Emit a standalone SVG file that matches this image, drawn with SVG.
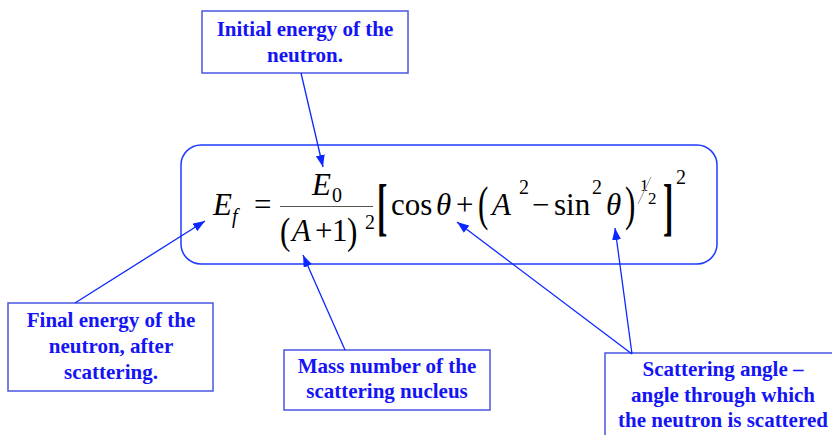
<svg xmlns="http://www.w3.org/2000/svg" width="832" height="435" viewBox="0 0 832 435">
<defs>
<style>
text{font-family:'Liberation Serif','Times New Roman','DejaVu Serif',serif}
.lbl{font-weight:bold;font-size:21px;fill:#1414f5;text-anchor:middle}
.box{fill:#fff;stroke:#4a56e0;stroke-width:1.5}
.m{font-size:31px;fill:#000}
.i{font-style:italic}
.s{font-size:20px}
.h{font-size:17px}
.br{font-weight:bold}
.con{stroke:#0a28ff;stroke-width:1.3;fill:none;marker-end:url(#ah)}
</style>
<marker id="ah" markerUnits="userSpaceOnUse" markerWidth="13" markerHeight="9" refX="12" refY="4.5" orient="auto">
<path d="M0,0 L12,4.5 L0,9 z" fill="#0a28ff"/>
</marker>
</defs>
<rect width="832" height="435" fill="#fff"/>

<g id="formula">
<rect x="181" y="145" width="536" height="119" rx="20" fill="none" stroke="#1e3cff" stroke-width="1.5"/>
<text class="m i" x="213" y="215">E</text>
<text class="m i s" x="232" y="223">f</text>
<text class="m" x="254" y="215">=</text>
<text class="m i" x="312" y="195">E</text>
<text class="m s" x="332" y="202">0</text>
<line x1="280" y1="206.5" x2="373" y2="206.5" stroke="#555" stroke-width="1.2"/>
<text class="m" transform="translate(280,244.2) scale(1,1.25)">(</text>
<text class="m i" x="292" y="241">A</text>
<text class="m" x="315" y="241">+</text>
<text class="m" x="332" y="241">1</text>
<text class="m" transform="translate(347,244.2) scale(1,1.25)">)</text>
<text class="m s" x="365" y="229">2</text>
<text class="m br" transform="translate(377,228) scale(1,2.05)">[</text>
<text class="m" x="391" y="215">cos</text>
<text class="m i" x="436" y="215">θ</text>
<text class="m" x="456" y="215">+</text>
<text class="m" transform="translate(478,219.5) scale(1,1.55)">(</text>
<text class="m i" x="492" y="215">A</text>
<text class="m s" x="519" y="194">2</text>
<text class="m" x="532" y="215">−</text>
<text class="m" x="554" y="215">sin</text>
<text class="m s" x="592" y="194">2</text>
<text class="m i" x="606" y="215">θ</text>
<text class="m" transform="translate(625,219.5) scale(1,1.55)">)</text>
<text class="m h" x="640" y="191">1</text>
<line x1="638" y1="204" x2="651" y2="177" stroke="#999" stroke-width="1"/>
<text class="m h" x="648" y="204">2</text>
<text class="m br" transform="translate(663,228) scale(1,2.05)">]</text>
<text class="m s" x="676" y="184">2</text>
</g>

<g id="initial">
<rect class="box" x="202" y="11" width="206" height="62"/>
<text class="lbl" x="305" y="36">Initial energy of the</text>
<text class="lbl" x="305" y="62">neutron.</text>
</g>

<g id="final">
<rect class="box" x="8" y="303" width="205" height="88"/>
<text class="lbl" x="111" y="327">Final energy of the</text>
<text class="lbl" x="111" y="353">neutron, after</text>
<text class="lbl" x="111" y="379">scattering.</text>
</g>

<g id="mass">
<rect class="box" x="284" y="350" width="206" height="60"/>
<text class="lbl" x="387" y="373">Mass number of the</text>
<text class="lbl" x="387" y="398">scattering nucleus</text>
</g>

<g id="angle">
<rect class="box" x="605" y="353" width="240" height="90"/>
<text class="lbl" x="723" y="376">Scattering angle –</text>
<text class="lbl" x="723" y="402">angle through which</text>
<text class="lbl" x="723" y="427">the neutron is scattered</text>
</g>

<g id="connectors">
<line class="con" x1="301" y1="73" x2="323" y2="167"/>
<line class="con" x1="75" y1="303" x2="205" y2="221"/>
<line class="con" x1="345" y1="350" x2="303" y2="255"/>
<line class="con" x1="632" y1="354" x2="457" y2="222"/>
<line class="con" x1="632" y1="354" x2="615" y2="228"/>
</g>
</svg>
